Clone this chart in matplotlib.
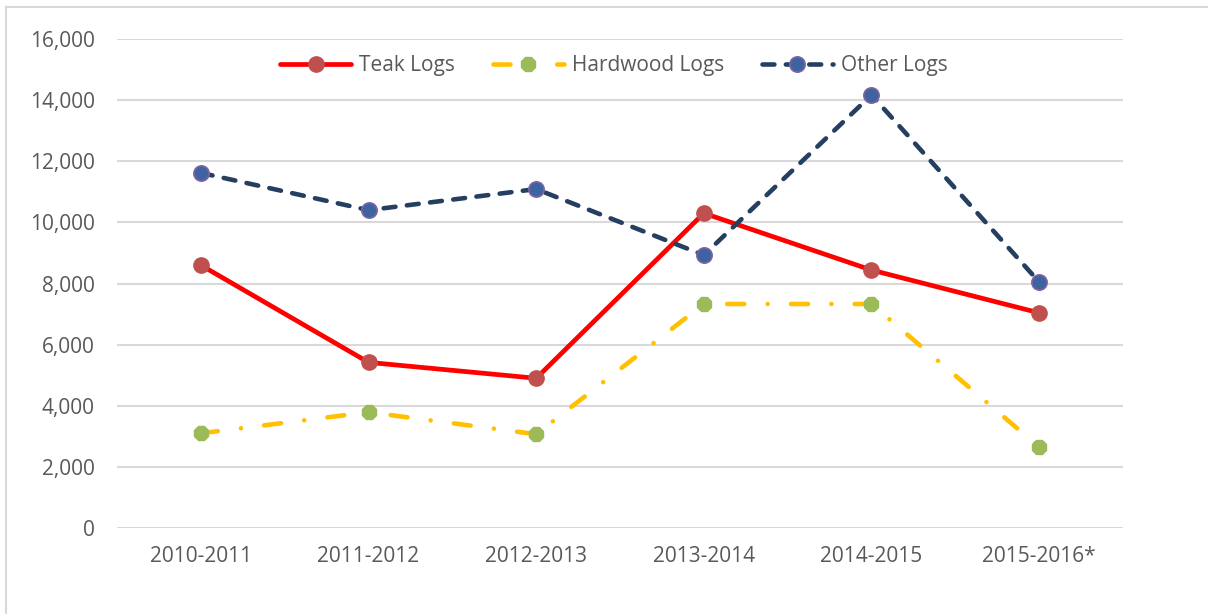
import matplotlib.pyplot as plt
from matplotlib.lines import Line2D
from matplotlib.ticker import FuncFormatter

plt.rcParams["font.family"] = ["Open Sans", "DejaVu Sans"]

years = ["2010-2011", "2011-2012", "2012-2013", "2013-2014", "2014-2015", "2015-2016*"]
teak_logs = [8600, 5420, 4900, 10300, 8440, 7040]
hardwood_logs = [3100, 3790, 3070, 7330, 7330, 2650]
other_logs = [11620, 10400, 11090, 8930, 14170, 8050]

text_color = "#595959"
grid_color = "#D9D9D9"

fig = plt.figure(figsize=(12.08, 6.14), dpi=100)
ax = fig.add_axes([0.0969, 0.140, 0.8327, 0.7965])

x = list(range(len(years)))

ax.plot(x, teak_logs, color="#FF0000", lw=3.4, solid_capstyle="round",
        marker="o", ms=11, mfc="#C0504D", mec="#C0504D", label="Teak Logs", zorder=3)

ax.plot(x, hardwood_logs, color="#FFC000", lw=3.3,
        linestyle=(0, (3.7, 5.1, 0.01, 5.1)), dash_capstyle="round",
        marker="8", ms=11, mfc="#9BBB59", mec="#9BBB59", label="Hardwood Logs", zorder=3)

ax.plot(x, other_logs, color="#243F60", lw=3.3,
        linestyle=(0, (2.6, 2.5)), dash_capstyle="round",
        marker="o", ms=11, mfc="#3D64A0", mec="#8064A2", mew=1.2,
        label="Other Logs", zorder=3)

ax.set_xlim(-0.5, len(years) - 0.5)
ax.set_ylim(0, 16000)
ax.set_yticks(range(0, 16001, 2000))
ax.yaxis.set_major_formatter(FuncFormatter(lambda v, p: f"{int(v):,}"))
ax.set_xticks(x)
ax.set_xticklabels(years)

ax.grid(axis="y", color=grid_color, lw=1.5, zorder=0)
ax.set_axisbelow(True)
for s in ax.spines.values():
    s.set_visible(False)
ax.tick_params(axis="both", length=0, labelsize=15, labelcolor=text_color)
ax.tick_params(axis="y", pad=16)
ax.tick_params(axis="x", pad=13)

leg = ax.legend(loc="upper center", bbox_to_anchor=(0.494, 1.005), ncol=3,
                frameon=False, fontsize=15, handlelength=3.4,
                columnspacing=1.8, handletextpad=0.4)
for t in leg.get_texts():
    t.set_color(text_color)

# chart area border (top and left edges visible)
fig.add_artist(Line2D([6 / 1208, 1], [1 - 7 / 614, 1 - 7 / 614],
                      transform=fig.transFigure, color=grid_color, lw=1.5))
fig.add_artist(Line2D([6 / 1208, 6 / 1208], [0, 1 - 7 / 614],
                      transform=fig.transFigure, color=grid_color, lw=1.5))

fig.savefig("out.png", dpi=100)
